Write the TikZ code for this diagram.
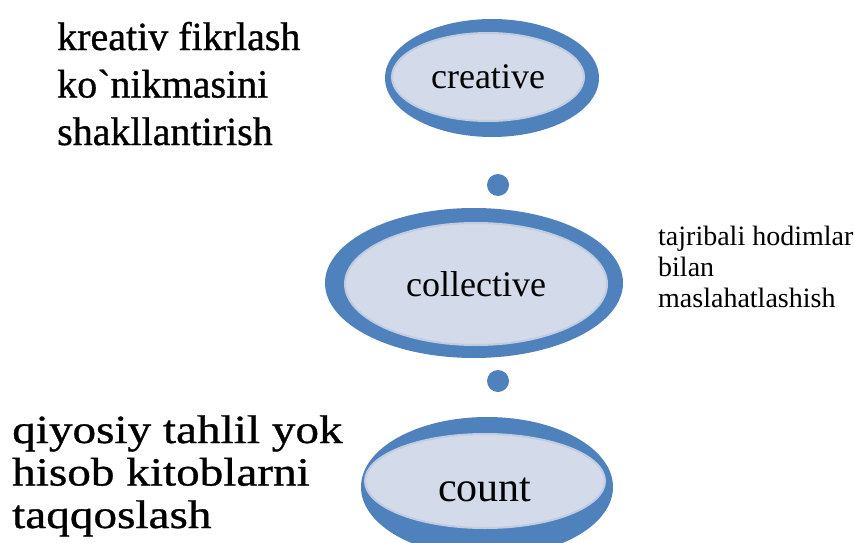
\documentclass[tikz,border=0pt]{standalone}
\usepackage{fontspec}
\setmainfont{Liberation Serif}
\newfontfamily\heavyserif[FakeBold=0.8]{Liberation Serif}
\newfontfamily\wideserif[FakeStretch=1.18,FakeBold=0.8]{Liberation Serif}
\usetikzlibrary{shapes.geometric}
\definecolor{ringblue}{RGB}{79,129,189}
\definecolor{innerfill}{RGB}{211,218,234}
\definecolor{innerline}{RGB}{192,204,226}
\tikzset{
  ringouter/.style={ellipse, fill=ringblue, inner sep=0pt},
  ringinner/.style={ellipse, fill=innerfill, draw=innerline, line width=2pt, inner sep=0pt},
  dotnode/.style={circle, fill=ringblue, inner sep=0pt, minimum size=22pt},
  sidetext/.style={align=left, inner sep=0pt, anchor=base west}
}
\begin{document}
\begin{tikzpicture}[x=1pt,y=-1pt]
\useasboundingbox (0,0) rectangle (854,543);
% creative
\node[ringouter, minimum width=214pt, minimum height=118pt] (creativeOuter) at (492,78) {};
\node[ringinner, minimum width=192pt, minimum height=88pt, font={\fontsize{36}{40}\selectfont}] (creative) at (488,77) {creative};
% collective
\node[ringouter, minimum width=298pt, minimum height=150pt] (collectiveOuter) at (474,283) {};
\node[ringinner, minimum width=262pt, minimum height=122pt, font={\fontsize{36}{40}\selectfont}] (collective) at (476,284) {collective};
% count
\node[ringouter, minimum width=252pt, minimum height=140pt] (countOuter) at (487,487) {};
\node[ringinner, minimum width=240pt, minimum height=94pt] (countInner) at (485,481) {};
\node[font={\fontsize{42}{46}\selectfont}, inner sep=0pt] (count) at (485,490) {count};
% dots
\node[dotnode] (dotA) at (498,185) {};
\node[dotnode] (dotB) at (498,381) {};
% side texts (anchored at the baseline of the last line)
\node[sidetext, font={\heavyserif\fontsize{40}{47.5}\selectfont}] (textTop) at (57,145)
  {kreativ fikrlash\\ko\char"02CB nikmasini\\shakllantirish};
\node[sidetext, font={\fontsize{28}{31}\selectfont}] (textRight) at (658,307)
  {tajribali hodimlar\\bilan\\maslahatlashish};
\node[sidetext, font={\wideserif\fontsize{40}{42.5}\selectfont}] (textBottom) at (12,528)
  {qiyosiy tahlil yok\\hisob kitoblarni\\taqqoslash};
\end{tikzpicture}
\end{document}
